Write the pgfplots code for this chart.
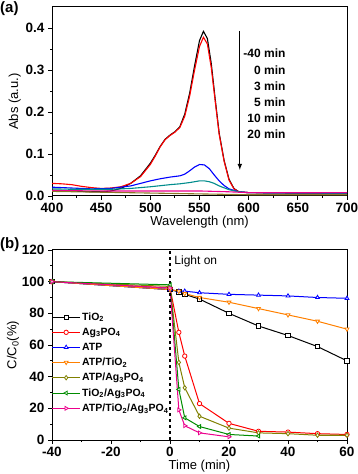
\documentclass[border=0pt]{standalone}
\usepackage{pgfplots}
\pgfplotsset{compat=1.18}
\usepackage{fontspec}
\setmainfont{Liberation Sans}
\definecolor{cteal}{RGB}{0,140,140}
\definecolor{colive}{RGB}{140,120,40}
\definecolor{corange}{RGB}{255,128,0}
\definecolor{colive2}{RGB}{128,128,0}
\definecolor{cgreen}{RGB}{0,140,0}
\begin{document}
\begin{tikzpicture}
\path[use as bounding box] (0pt,0pt) rectangle (357pt,474pt);
\pgfplotsset{
  every axis/.append style={
    scale only axis,
    axis line style={line width=1pt},
    tick align=outside,
    tick pos=left,
    major tick length=4pt,
    minor tick length=2pt,
    every tick/.style={line width=0.9pt, black},
    minor tick num=1,
    tick label style={font=\fontsize{13.5}{14}\selectfont\bfseries},
    label style={font=\fontsize{13}{14}\selectfont},
    /pgf/number format/assume math mode=true,
  }
}
% ---------------- (a)
\begin{axis}[
  at={(52pt,278pt)}, anchor=south west,
  width=295pt, height=189pt,
  xmin=400, xmax=700, ymin=0, ymax=0.45,
  xtick={400,450,...,700},
  ytick={0,0.1,0.2,0.3,0.4},
  yticklabel style={/pgf/number format/fixed,/pgf/number format/fixed zerofill,/pgf/number format/precision=1},
  xlabel={Wavelength (nm)},
  ylabel={Abs (a.u.)},
  xlabel style={yshift=4pt},
  ylabel style={yshift=-2pt},
  every axis plot/.append style={line width=1.1pt, no marks},
]
\addplot[black] coordinates {(400,0.014)(410,0.013)(420,0.012)(430,0.011)(440,0.010)(450,0.010)(460,0.012)(470,0.018)(480,0.030)(490,0.048)(500,0.078)(505,0.097)(510,0.118)(515,0.135)(520,0.145)(525,0.153)(530,0.165)(535,0.195)(540,0.245)(545,0.310)(550,0.370)(554,0.392)(558,0.375)(562,0.315)(566,0.230)(570,0.150)(575,0.085)(580,0.040)(585,0.018)(590,0.010)(600,0.008)(650,0.007)(700,0.007)};
\addplot[red] coordinates {(400,0.030)(410,0.029)(420,0.027)(430,0.023)(440,0.020)(450,0.018)(460,0.019)(470,0.022)(480,0.030)(490,0.046)(500,0.075)(505,0.095)(510,0.117)(515,0.134)(520,0.144)(525,0.152)(530,0.163)(535,0.190)(540,0.238)(545,0.300)(550,0.356)(554,0.378)(558,0.362)(562,0.305)(566,0.225)(570,0.147)(575,0.083)(580,0.038)(585,0.017)(590,0.010)(600,0.008)(700,0.007)};
\addplot[blue] coordinates {(400,0.021)(420,0.019)(440,0.017)(460,0.018)(480,0.024)(490,0.030)(500,0.036)(510,0.041)(520,0.045)(530,0.048)(535,0.052)(540,0.060)(545,0.069)(550,0.075)(555,0.074)(560,0.065)(565,0.050)(570,0.036)(575,0.025)(580,0.017)(590,0.010)(600,0.008)(700,0.007)};
\addplot[cteal] coordinates {(400,0.017)(420,0.016)(440,0.016)(460,0.016)(480,0.018)(500,0.022)(520,0.027)(530,0.029)(540,0.032)(550,0.036)(555,0.036)(560,0.034)(565,0.030)(570,0.024)(580,0.015)(590,0.010)(600,0.008)(700,0.007)};
\addplot[magenta] coordinates {(400,0.013)(450,0.012)(500,0.012)(550,0.012)(580,0.010)(600,0.008)(700,0.008)};
\addplot[colive] coordinates {(400,0.011)(450,0.009)(500,0.007)(550,0.005)(600,0.003)(700,0.003)};
\draw[-latex, line width=1.1pt] (axis cs:591,0.393) -- (axis cs:591,0.062);
\node[anchor=east, font=\fontsize{12}{13}\selectfont\bfseries] at (axis cs:641,0.34) {-40 min};
\node[anchor=east, font=\fontsize{12}{13}\selectfont\bfseries] at (axis cs:641,0.30) {0 min};
\node[anchor=east, font=\fontsize{12}{13}\selectfont\bfseries] at (axis cs:641,0.261) {3 min};
\node[anchor=east, font=\fontsize{12}{13}\selectfont\bfseries] at (axis cs:641,0.224) {5 min};
\node[anchor=east, font=\fontsize{12}{13}\selectfont\bfseries] at (axis cs:641,0.186) {10 min};
\node[anchor=east, font=\fontsize{12}{13}\selectfont\bfseries] at (axis cs:641,0.147) {20 min};
\end{axis}
% ---------------- (b)
\begin{axis}[
  at={(52pt,34pt)}, anchor=south west,
  width=295pt, height=190pt,
  xmin=-40, xmax=60, ymin=0, ymax=120,
  xtick={-40,-20,...,60},
  ytick={0,20,...,120},
  xlabel={Time (min)},
  ylabel={C/C\textsubscript{0}(\%)},
  xlabel style={yshift=4pt},
  ylabel style={yshift=-4pt},
  every axis plot/.append style={line width=1pt, mark size=2.2pt},
  legend style={at={(rel axis cs:-0.012,0.69)}, anchor=north west, draw=none, fill=none,
    font=\fontsize{10.5}{11}\selectfont\bfseries, row sep=3.2pt, nodes={inner sep=1.5pt}},
  legend cell align=left,
  legend image code/.code={\draw[mark repeat=2,mark phase=2] plot coordinates {(0pt,0pt)(14pt,0pt)(28pt,0pt)};},
]
\addplot[black, mark=square*, mark options={solid, fill=white, line width=0.8pt}] coordinates {(-40,100)(0,95)(3,93.5)(5,92)(10,89)(20,80)(30,72)(40,66)(50,59)(60,50)};
\addplot[red, mark=*, mark options={solid, fill=white, line width=0.8pt}] coordinates {(-40,100)(0,96)(3,68)(5,53)(10,23)(20,10.5)(30,5.5)(40,5)(50,4)(60,3.5)};
\addplot[blue, mark=triangle*, mark options={solid, fill=white, line width=0.8pt}] coordinates {(-40,100)(0,95)(3,94)(5,94)(10,93)(20,92)(30,91.5)(40,91)(50,90)(60,89.5)};
\addplot[corange, mark=triangle*, mark options={solid, fill=white, line width=0.8pt, rotate=180}] coordinates {(-40,100)(0,95)(3,94)(5,92.5)(10,90)(20,87)(30,83)(40,79)(50,75)(60,70)};
\addplot[colive2, mark=diamond*, mark options={solid, fill=white, line width=0.8pt}] coordinates {(-40,100)(0,97)(3,49)(5,33)(10,15)(20,7.5)(30,4.5)(40,4)(50,3)(60,3)};
\addplot[cgreen, mark=triangle*, mark options={solid, fill=white, line width=0.8pt, rotate=90}] coordinates {(-40,100)(0,98)(3,32)(5,14)(10,8.5)(20,3.5)(30,2.5)};
\addplot[magenta, mark=triangle*, mark options={solid, fill=white, line width=0.8pt, rotate=-90}] coordinates {(-40,100)(0,96)(3,19)(5,9)(10,4.5)(20,2)};
\legend{TiO\textsubscript{2},Ag\textsubscript{3}PO\textsubscript{4},ATP,ATP/TiO\textsubscript{2},ATP/Ag\textsubscript{3}PO\textsubscript{4},TiO\textsubscript{2}/Ag\textsubscript{3}PO\textsubscript{4},ATP/TiO\textsubscript{2}/Ag\textsubscript{3}PO\textsubscript{4}}
\addplot[black, dashed, line width=1.3pt, no marks, forget plot] coordinates {(0,0)(0,120)};
\node[anchor=west, font=\fontsize{12}{12}\selectfont] at (axis cs:0.3,112.5) {Light on};
\end{axis}
\node[anchor=north west, font=\fontsize{15}{15}\selectfont\bfseries, inner sep=0pt] at (0pt,473pt) {(a)};
\node[anchor=north west, font=\fontsize{15}{15}\selectfont\bfseries, inner sep=0pt] at (0pt,237pt) {(b)};
\end{tikzpicture}
\end{document}
